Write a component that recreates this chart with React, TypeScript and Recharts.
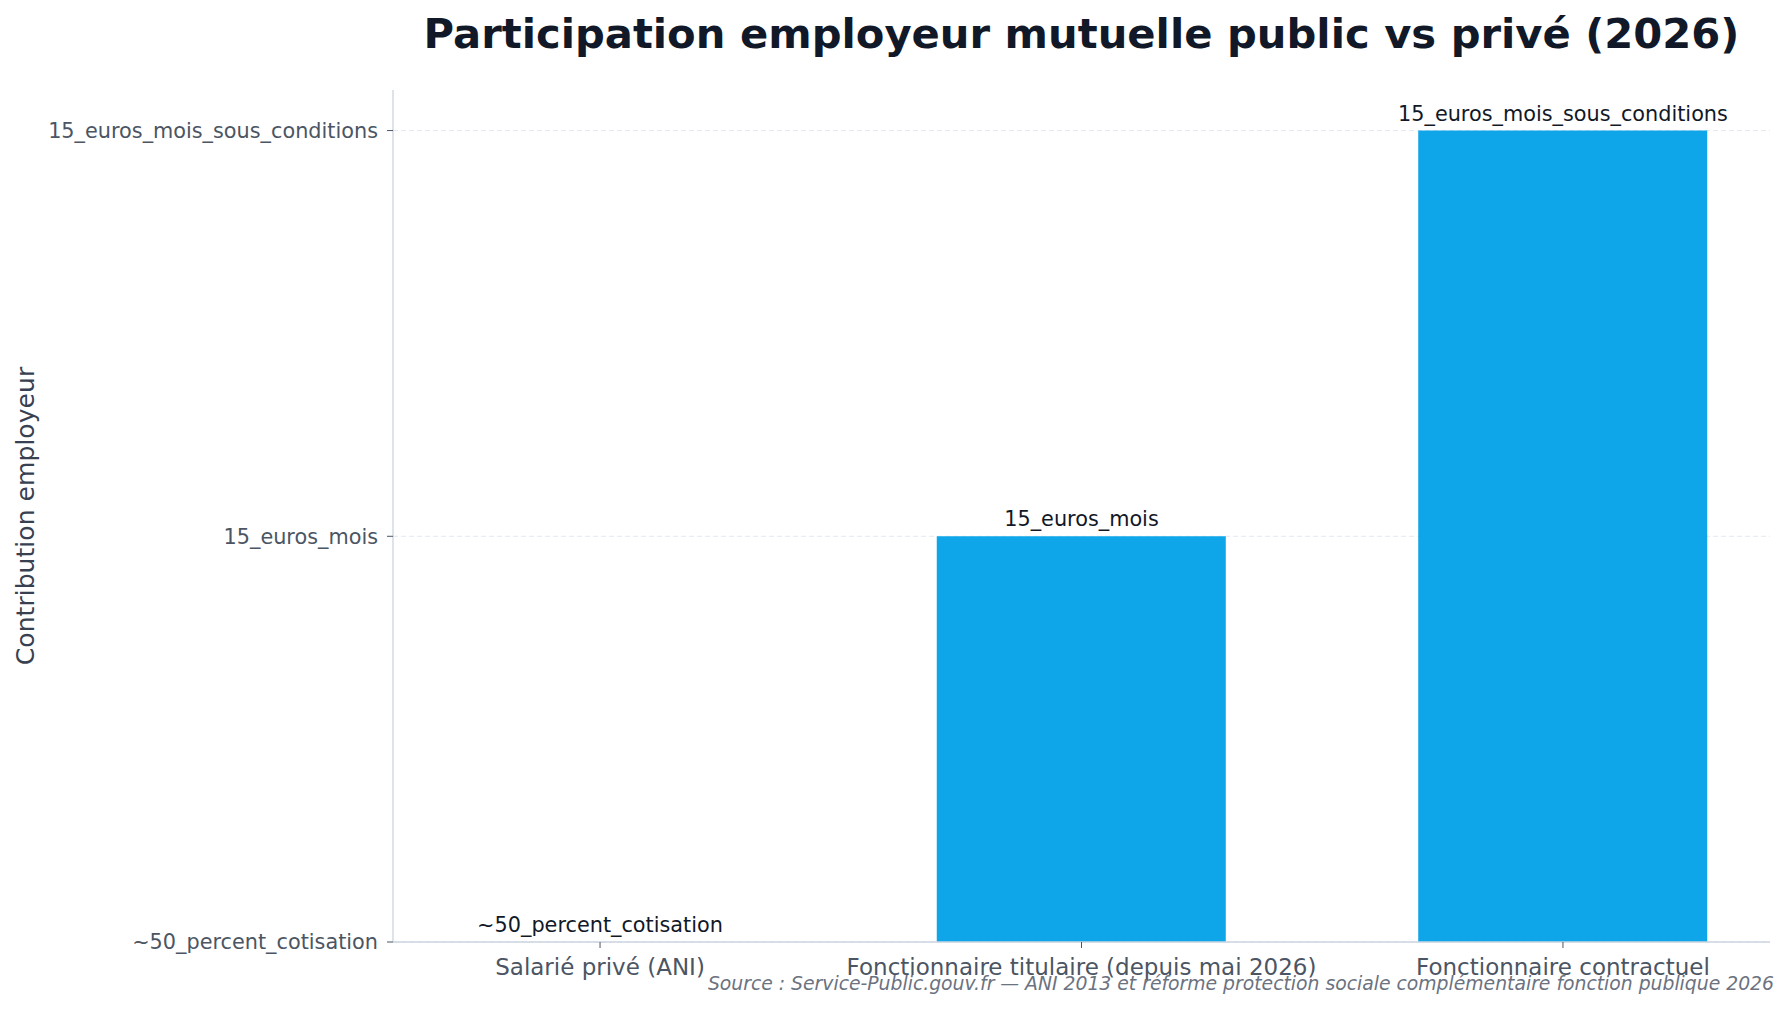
import React from "react";
import { ComposedChart, Bar, Scatter, XAxis, YAxis, CartesianGrid, LabelList, Label } from "recharts";

const categories = [
  "Salarié privé (ANI)",
  "Fonctionnaire titulaire (depuis mai 2026)",
  "Fonctionnaire contractuel",
];
const levelLabels = ["~50_percent_cotisation", "15_euros_mois", "15_euros_mois_sous_conditions"];
const levelValues = [0, 1, 2];
const positions = [0, 1, 2];

const data = categories.map((c, i) => ({
  name: c,
  pos: positions[i],
  value: levelValues[i],
  label: levelLabels[levelValues[i]],
}));

const FONT = "'DejaVu Sans', sans-serif";

const renderBarLabel = (p: any) => {
  const cx = (p.x ?? 0) + (p.width ?? 0) / 2;
  const cy = (p.y ?? 0) + (p.height ?? 0) / 2;
  return (
    <text x={cx} y={cy - 10} textAnchor="middle" fontSize={20.8} fill="#111827" fontFamily={FONT}>
      {p.value}
    </text>
  );
};

export default function App() {
  return (
    <div style={{ position: "absolute", left: 0, top: 0, width: 1789, height: 1009, background: "#fff", fontFamily: FONT }}>
      <div
        style={{
          position: "absolute",
          left: 393,
          width: 1377,
          top: 13,
          textAlign: "center",
          fontSize: 41.7,
          lineHeight: 1,
          fontWeight: "bold",
          color: "#111827",
          whiteSpace: "nowrap",
        }}
      >
        Participation employeur mutuelle public vs privé (2026)
      </div>
      <ComposedChart
        width={1789}
        height={1009}
        data={data}
        margin={{ top: 90, right: 19, bottom: 0, left: 0 }}
        style={{ fontFamily: FONT }}
      >
        <CartesianGrid vertical={false} stroke="#e2e8f0" strokeDasharray="5 3" syncWithTicks />
        <XAxis
          type="number"
          dataKey="pos"
          domain={[-0.43, 2.43]}
          ticks={positions}
          tickFormatter={(v: number) => categories[v]}
          interval={0}
          height={67}
          axisLine={{ stroke: "#cbd5e1", strokeWidth: 1.3 }}
          tickLine={{ stroke: "#4b5563" }}
          tickSize={6}
          tickMargin={11}
          tick={{ fontSize: 23, fill: "#4b5563" }}
        />
        <YAxis
          type="number"
          dataKey="value"
          domain={[0, 2.1]}
          ticks={levelValues}
          tickFormatter={(v: number) => levelLabels[v]}
          width={393}
          interval={0}
          axisLine={{ stroke: "#cbd5e1", strokeWidth: 1.3 }}
          tickLine={{ stroke: "#4b5563" }}
          tickSize={6}
          tickMargin={9}
          tick={{ fontSize: 20.8, fill: "#4b5563" }}
        >
          <Label
            content={(props: any) => {
              const vb = props.viewBox || {};
              const cx = (vb.x ?? 0) + 25;
              const cy = (vb.y ?? 0) + (vb.height ?? 0) / 2;
              return (
                <text
                  x={cx}
                  y={cy}
                  transform={`rotate(-90 ${cx} ${cy})`}
                  textAnchor="middle"
                  dominantBaseline="central"
                  fontSize={25.1}
                  fill="#374151"
                  fontFamily={FONT}
                >
                  Contribution employeur
                </text>
              );
            }}
          />
        </YAxis>
        <Bar dataKey="value" fill="#0ea5e9" barSize={289} isAnimationActive={false} />
        <Scatter dataKey="value" shape={() => <g />} isAnimationActive={false} legendType="none">
          <LabelList dataKey="label" content={renderBarLabel} />
        </Scatter>
      </ComposedChart>
      <div
        style={{
          position: "absolute",
          right: 15,
          top: 975,
          fontSize: 18.8,
          lineHeight: 1,
          fontStyle: "italic",
          color: "#6b7280",
          whiteSpace: "nowrap",
        }}
      >
        Source : Service-Public.gouv.fr — ANI 2013 et réforme protection sociale complémentaire fonction publique 2026
      </div>
    </div>
  );
}
